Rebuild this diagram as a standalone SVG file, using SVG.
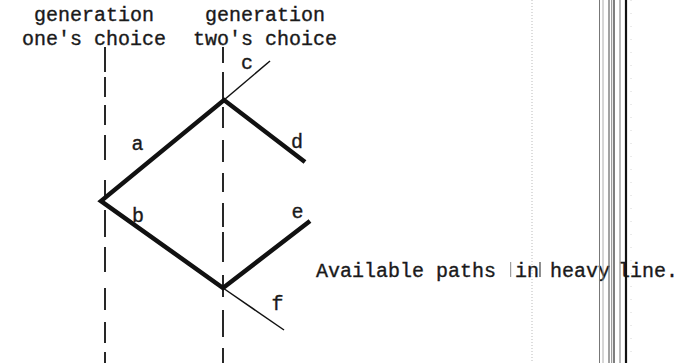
<svg xmlns="http://www.w3.org/2000/svg" width="696" height="363" viewBox="0 0 696 363">
<style>
text{font-family:"Liberation Mono","DejaVu Sans Mono",monospace;font-size:20px;fill:#1a1a1a;stroke:#1a1a1a;stroke-width:0.35}
.lbl{text-anchor:middle}
.heavy{fill:none;stroke:#111;stroke-width:4.5;stroke-linejoin:miter;stroke-linecap:butt}
.thin{fill:none;stroke:#111;stroke-width:1.5}
.dash{stroke:#111;stroke-width:1.8}
.art{fill:none}
</style>
<rect width="696" height="363" fill="#fff"/>
<g id="header-one"><text class="lbl" x="94" y="21">generation</text><text class="lbl" x="94" y="45">one's choice</text></g>
<g id="header-two"><text class="lbl" x="265" y="21">generation</text><text class="lbl" x="265" y="45">two's choice</text></g>
<g id="generation-lines">
<line class="dash" x1="105" y1="47" x2="105" y2="363" stroke-dasharray="25 5 20 8 20 10 25 20 20 10 27 10 25 16 22 12 21 9 11"/>
<line class="dash" x1="223" y1="47" x2="223" y2="363" stroke-dasharray="16 9 31 4 21 12 22 11 19 11 24 5 30 13 22 13 27 11 15"/>
</g>
<g id="connectors">
<polyline class="heavy" points="305,162 224,100 101,201 223,288 310,221"/>
<line class="thin" x1="224" y1="100" x2="270" y2="61"/>
<line class="thin" x1="223" y1="288" x2="284" y2="330"/>
</g>
<g id="node-a"><text class="lbl" x="137.5" y="150">a</text></g>
<g id="node-b"><text class="lbl" x="138" y="222">b</text></g>
<g id="node-c"><text class="lbl" x="247" y="69">c</text></g>
<g id="node-d"><text class="lbl" x="297" y="148">d</text></g>
<g id="node-e"><text class="lbl" x="297.5" y="218">e</text></g>
<g id="node-f"><text class="lbl" x="277.5" y="310">f</text></g>
<g id="caption"><text y="277"><tspan x="316">Available paths</tspan><tspan x="515">in</tspan><tspan x="550">heavy</tspan><tspan x="618">line.</tspan></text></g>
<g id="scan-marks" class="art">
<line x1="532" y1="0" x2="532" y2="363" stroke="#aaa" stroke-width="0.8" stroke-dasharray="1 2"/>
<line x1="510.7" y1="262" x2="510.7" y2="277" stroke="#888" stroke-width="1"/>
<line x1="540" y1="262" x2="540" y2="277" stroke="#444" stroke-width="1.2"/>
<line x1="599.5" y1="0" x2="599.5" y2="363" stroke="#777" stroke-width="1"/>
<line x1="603" y1="0" x2="603" y2="363" stroke="#999" stroke-width="0.8"/>
<line x1="609" y1="0" x2="609" y2="363" stroke="#666" stroke-width="1.2"/>
<line x1="611.7" y1="0" x2="611.7" y2="363" stroke="#888" stroke-width="1"/>
<line x1="614" y1="0" x2="614" y2="363" stroke="#555" stroke-width="1.5"/>
<line x1="620" y1="0" x2="620" y2="363" stroke="#777" stroke-width="1"/>
<line x1="626" y1="0" x2="626" y2="363" stroke="#111" stroke-width="2.2"/>
<line x1="631" y1="0" x2="631" y2="363" stroke="#ccc" stroke-width="0.8" stroke-dasharray="1 12"/>
</g>
</svg>
